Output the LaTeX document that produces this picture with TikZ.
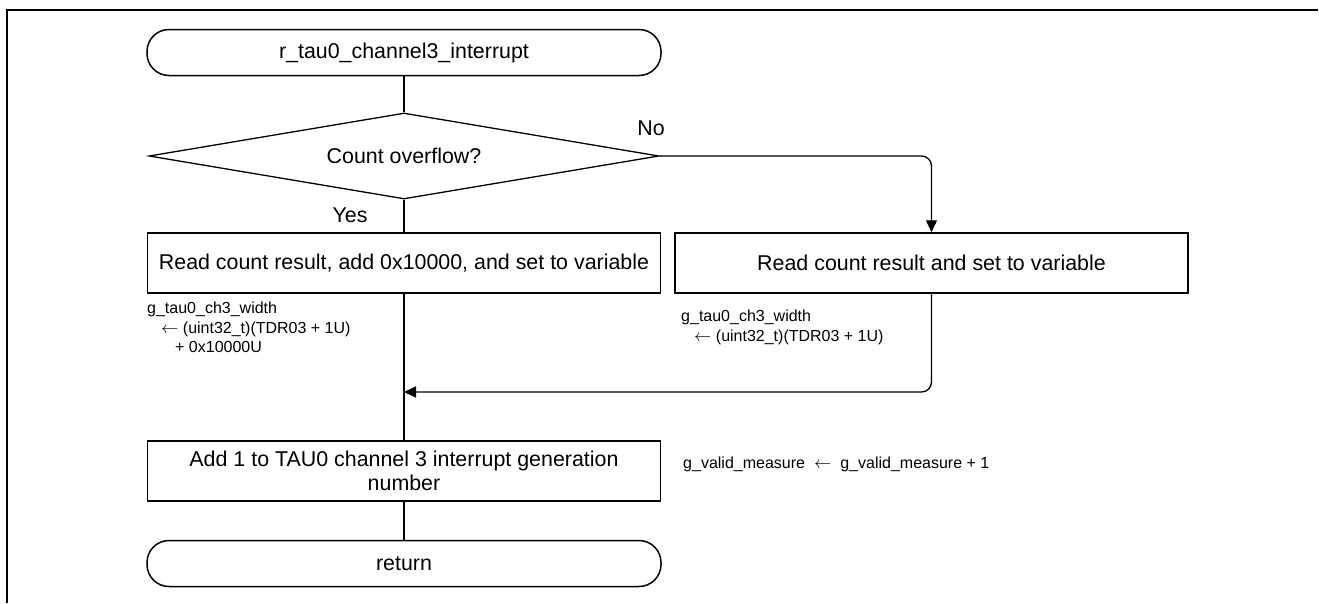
\documentclass[tikz,border=0pt]{standalone}
\usepackage{fontspec}
\setmainfont{Liberation Sans}
\usetikzlibrary{shapes.geometric,arrows.meta}
\newcommand{\larr}{\(\leftarrow\)}
\begin{document}
\begin{tikzpicture}[x=1pt,y=-1pt,
  every node/.style={font=\fontsize{21.4pt}{24pt}\selectfont, inner sep=0pt},
  lineS/.style={line width=1.3pt},
  procbox/.style={draw, line width=1.5pt, rectangle, minimum width=513pt, minimum height=60pt, align=center},
  termbox/.style={draw, line width=1.5pt, rectangle, rounded corners=22pt, minimum width=514pt, minimum height=46pt},
  decbox/.style={draw, line width=1.3pt, diamond, aspect=6, minimum width=510pt, minimum height=86pt},
  note/.style={font=\fontsize{16pt}{19.5pt}\selectfont, align=left, inner sep=0pt},
  arr/.style={-{Triangle[length=12pt,width=11pt]}}
]
\useasboundingbox (0,0) rectangle (1319,603);
\draw[line width=2pt] (7,603) -- (7,10) -- (1318,10);

\node[termbox] (start) at (404,52.5) {r\_tau0\_channel3\_interrupt};
\node[decbox] (dec) at (404,156) {Count overflow?};
\node[procbox] (b1) at (404,263) {Read count result, add 0x10000, and set to variable};
\node[procbox] (b2) at (931.5,263) {Read count result and set to variable};
\node[procbox] (b3) at (404,471) {Add 1 to TAU0 channel 3 interrupt generation\\number};
\node[termbox] (ret) at (404,563.5) {return};
\coordinate (m) at (404,392);

\node[anchor=base] (yes) at (350,222) {Yes};
\node[anchor=base] (no) at (651,135) {No};

\node[note, anchor=north west] (n1) at (147,302) {g\_tau0\_ch3\_width\\\hspace*{14pt}\larr\ (uint32\_t)(TDR03 + 1U)\\\hspace*{28pt}+ 0x10000U};
\node[note, anchor=north west] (n2) at (681,310) {g\_tau0\_ch3\_width\\\hspace*{13pt}\larr\ (uint32\_t)(TDR03 + 1U)};
\node[note, anchor=base west] (n3) at (683,468) {g\_valid\_measure\hspace{9pt}\larr\hspace{9pt}g\_valid\_measure + 1};

\draw[lineS] (start.south) -- (dec.north);
\draw[lineS] (dec.south) -- (b1.north);
\draw[lineS, arr, rounded corners=10pt] (dec.east) -| (b2.north);
\draw[lineS] (b1.south) -- (b3.north);
\draw[lineS, arr, rounded corners=10pt] (b2.south) |- (m);
\draw[lineS] (b3.south) -- (ret.north);
\end{tikzpicture}
\end{document}
